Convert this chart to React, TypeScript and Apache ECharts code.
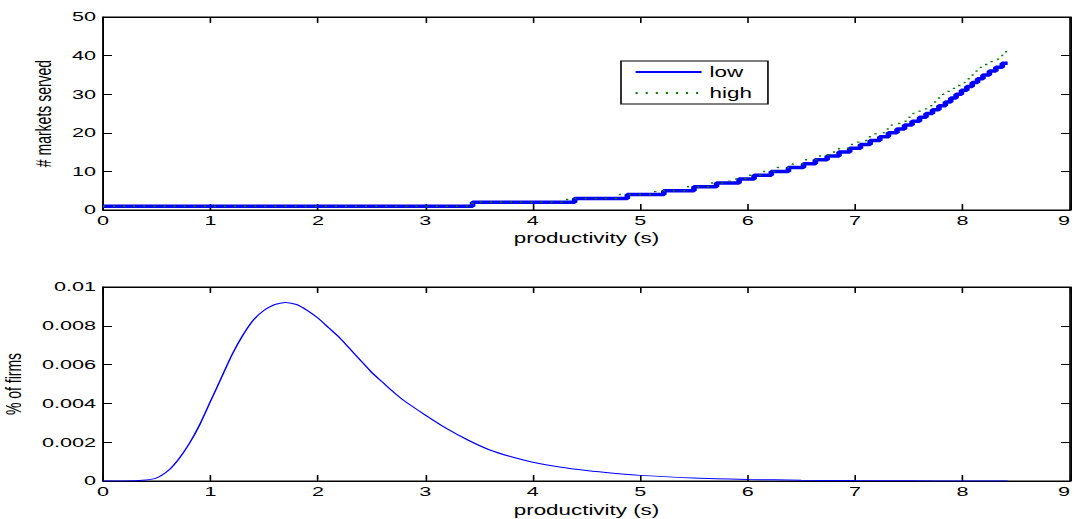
import React, { useEffect, useRef } from "react";
import * as echarts from "echarts";

// Top panel: productivity thresholds at which the number of markets served steps up
const lowS = [0, 3.44, 4.39, 4.88, 5.22, 5.5, 5.71, 5.92, 6.06, 6.22, 6.38, 6.52, 6.63, 6.74, 6.85, 6.95, 7.05, 7.14, 7.23, 7.31, 7.39, 7.46, 7.53, 7.6, 7.66, 7.72, 7.78, 7.84, 7.89, 7.94, 7.99, 8.04, 8.09, 8.14, 8.19, 8.25, 8.31, 8.37, 8.42];
const lowMarkets = [1, 2, 3, 4, 5, 6, 7, 8, 9, 10, 11, 12, 13, 14, 15, 16, 17, 18, 19, 20, 21, 22, 23, 24, 25, 26, 27, 28, 29, 30, 31, 32, 33, 34, 35, 36, 37, 38, 38];

const highS = [0, 3.44, 4.32, 4.81, 5.14, 5.42, 5.63, 5.83, 5.98, 6.13, 6.28, 6.42, 6.53, 6.64, 6.75, 6.85, 6.94, 7.03, 7.11, 7.19, 7.27, 7.34, 7.41, 7.48, 7.54, 7.6, 7.66, 7.72, 7.77, 7.82, 7.87, 7.92, 7.97, 8.02, 8.07, 8.12, 8.17, 8.22, 8.27, 8.33, 8.38, 8.42];
const highMarkets = [1, 2, 3, 4, 5, 6, 7, 8, 9, 10, 11, 12, 13, 14, 15, 16, 17, 18, 19, 20, 21, 22, 23, 24, 25, 26, 27, 28, 29, 30, 31, 32, 33, 34, 35, 36, 37, 38, 39, 40, 41, 41];

// Bottom panel: distribution of firms over productivity
const densityS = [0, 0.2, 0.4, 0.5, 0.6, 0.7, 0.8, 0.9, 1.0, 1.1, 1.2, 1.3, 1.4, 1.5, 1.6, 1.7, 1.8, 1.9, 2.0, 2.1, 2.2, 2.3, 2.4, 2.5, 2.6, 2.7, 2.8, 3.0, 3.2, 3.4, 3.6, 3.8, 4.0, 4.25, 4.5, 4.75, 5.0, 5.5, 6.0, 6.5, 7.0, 7.5, 8.0, 8.42];
const densityPct = [0, 0, 0.00005, 0.00016, 0.0005, 0.0011, 0.0019, 0.0029, 0.0041, 0.0053, 0.0065, 0.0075, 0.0083, 0.0088, 0.0091, 0.0092, 0.0091, 0.0088, 0.0084, 0.0079, 0.0074, 0.0068, 0.0062, 0.0056, 0.0051, 0.0046, 0.00415, 0.0034, 0.0027, 0.0021, 0.0016, 0.00125, 0.00097, 0.00072, 0.00054, 0.0004, 0.00029, 0.00015, 0.00008, 0.00004, 0.00002, 0.00001, 0, 0];

const xTicks = [0, 9, 1];
const topY = [0, 50, 10];
const botY = [0, 0.01, 0.002];

const FONT = "Liberation Sans, Arial, sans-serif";
// The reference figure is horizontally stretched; the chart is drawn narrower and stretched back.
const SX = 1.6;
const W = 1074 / SX;
const H = 519;
const sx = (px: number) => px / SX;

function xAxisPair(grid: number, name: string, gap: number) {
  const common = {
    gridIndex: grid,
    type: "value" as const,
    min: xTicks[0],
    max: xTicks[1],
    interval: xTicks[2],
    splitLine: { show: false },
    axisLine: { onZero: false, lineStyle: { color: "#000", width: 1 } },
    axisTick: { inside: true, length: 6, lineStyle: { color: "#000", width: 1 } },
  };
  return [
    {
      ...common,
      position: "bottom",
      axisLabel: { color: "#000", fontSize: 13.5, fontFamily: FONT, margin: 3, alignMaxLabel: "right" },
      name,
      nameLocation: "middle",
      nameGap: gap,
      nameTextStyle: { color: "#000", fontSize: 14, fontFamily: FONT },
    },
    { ...common, position: "top", axisLabel: { show: false } },
  ];
}

function yAxisPair(grid: number, range: number[], name: string, gap: number, fmt: (v: number) => string) {
  const common = {
    gridIndex: grid,
    type: "value" as const,
    min: range[0],
    max: range[1],
    interval: range[2],
    splitLine: { show: false },
    axisLine: { onZero: false, lineStyle: { color: "#000", width: 1 } },
    axisTick: { inside: true, length: sx(9), lineStyle: { color: "#000", width: 1 } },
  };
  return [
    {
      ...common,
      position: "left",
      axisLabel: { color: "#000", fontSize: 13.5, fontFamily: FONT, margin: sx(7), formatter: fmt },
      name,
      nameLocation: "middle",
      nameGap: gap,
      nameRotate: 90,
      nameTextStyle: { color: "#000", fontSize: 14, fontFamily: FONT },
    },
    { ...common, position: "right", axisLabel: { show: false } },
  ];
}

export default function App() {
  const ref = useRef<HTMLDivElement>(null);
  useEffect(() => {
    if (!ref.current) return;
    const chart = echarts.init(ref.current, undefined, { renderer: "svg" });
    const lowData = lowS.map((s, i) => [s, lowMarkets[i]]);
    const highData = highS.map((s, i) => [s, highMarkets[i]]);
    const densData = densityS.map((s, i) => [s, densityPct[i]]);
    chart.setOption({
      animation: false,
      backgroundColor: "#fff",
      grid: [
        {
          left: sx(103), top: 17, width: sx(967), height: 193,
          show: true, borderColor: "#000", borderWidth: 1,
          containLabel: false, outerBoundsMode: "none",
        },
        {
          left: sx(103), top: 287, width: sx(967), height: 194,
          show: true, borderColor: "#000", borderWidth: 1,
          containLabel: false, outerBoundsMode: "none",
        },
      ],
      xAxis: [...xAxisPair(0, "productivity (s)", 21), ...xAxisPair(1, "productivity (s)", 22)],
      yAxis: [
        ...yAxisPair(0, topY, "# markets served", 25, (v: number) => String(v)),
        ...yAxisPair(1, botY, "% of firms", 45, (v: number) => String(+v.toFixed(3))),
      ],
      legend: {
        data: ["low", "high"],
        orient: "vertical",
        left: sx(621),
        top: 61,
        itemWidth: sx(66),
        itemHeight: 12,
        itemGap: 7,
        padding: [4, sx(16), 4, sx(13)],
        borderColor: "#000",
        borderWidth: 1,
        backgroundColor: "#fff",
        itemStyle: { opacity: 0 },
        textStyle: { color: "#000", fontSize: 14, fontFamily: FONT },
      },
      series: [
        {
          name: "high",
          type: "line",
          xAxisIndex: 0,
          yAxisIndex: 0,
          step: "end",
          symbol: "none",
          data: highData,
          lineStyle: { color: "#008000", width: 1.5, type: [1.3, 5] },
          itemStyle: { color: "#008000" },
          z: 3,
        },
        {
          name: "low",
          type: "line",
          xAxisIndex: 0,
          yAxisIndex: 0,
          step: "end",
          symbol: "none",
          data: lowData,
          lineStyle: { color: "#0000ff", width: 3.5 },
          itemStyle: { color: "#0000ff" },
          z: 2,
        },
        {
          name: "density",
          type: "line",
          xAxisIndex: 2,
          yAxisIndex: 2,
          symbol: "none",
          smooth: 0.2,
          data: densData,
          lineStyle: { color: "#0000ff", width: 1 },
        },
      ],
    });
    return () => chart.dispose();
  }, []);
  return (
    <div
      ref={ref}
      style={{
        position: "absolute",
        left: 0,
        top: 0,
        width: W,
        height: H,
        background: "#fff",
        transform: `scaleX(${SX})`,
        transformOrigin: "0 0",
      }}
    />
  );
}
